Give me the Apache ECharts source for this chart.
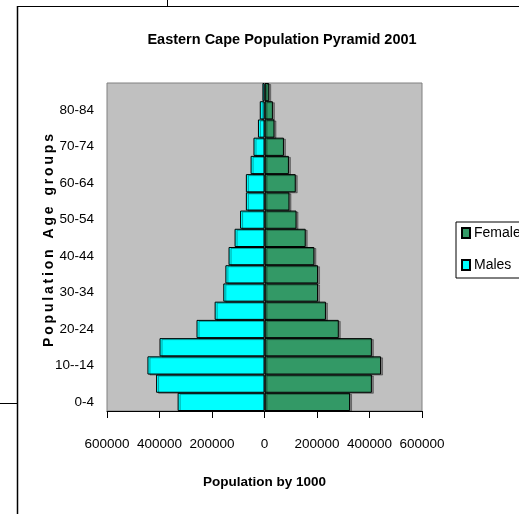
<!DOCTYPE html>
<html>
<head>
<meta charset="utf-8">
<title>Eastern Cape Population Pyramid 2001</title>
<script src="https://cdn.jsdelivr.net/npm/echarts@6/dist/echarts.min.js"></script>
<style>
  html, body { margin: 0; padding: 0; background: #ffffff; }
  #chart { width: 519px; height: 514px; }
</style>
</head>
<body>
<div id="chart"></div>
<script>
// Age groups, youngest at the bottom of the pyramid
const ageGroups = ['0-4', '5-9', '10--14', '15-19', '20-24', '25-29', '30-34', '35-39',
  '40-44', '45-49', '50-54', '55-59', '60-64', '65-69', '70-74', '75-79', '80-84', '85+'];

// Population counts per age group
const males = [331000, 413000, 446000, 400000, 259000, 190000, 157000, 149000,
  137000, 114000, 93000, 71000, 71000, 53000, 42000, 25000, 18000, 8000];
const females = [326000, 409000, 444000, 409000, 283000, 234000, 204000, 204000,
  190000, 157000, 122000, 95000, 119000, 93000, 74000, 38000, 32000, 18000];

// Axis ticks
const axisMin = -600000;
const axisMax = 600000;
const axisStep = 200000;

const sans = '"Liberation Sans", Arial, sans-serif';

const chart = echarts.init(document.getElementById('chart'), null, { renderer: 'canvas' });

const barStyle = (color) => ({
  color: color,
  borderColor: '#000000',
  borderWidth: 1,
  shadowColor: 'rgba(0,0,0,0.35)',
  shadowOffsetX: 2,
  shadowOffsetY: 1
});

chart.setOption({
  animation: false,
  backgroundColor: '#ffffff',
  title: {
    text: 'Eastern Cape Population Pyramid 2001',
    left: 277,
    textAlign: 'center',
    top: 27,
    textStyle: { fontFamily: sans, fontSize: 14.5, fontWeight: 'bold', color: '#000000' }
  },
  legend: {
    orient: 'vertical',
    left: 456,
    top: 222,
    padding: [3, 30, 5, 5],
    itemGap: 16,
    itemWidth: 8,
    itemHeight: 10,
    icon: 'rect',
    borderColor: '#000000',
    borderWidth: 1,
    borderRadius: 0,
    textStyle: { fontFamily: sans, fontSize: 14, lineHeight: 16, color: '#000000', padding: [0, 0, 0, -1] },
    data: ['Females', 'Males']
  },
  grid: {
    left: 107,
    top: 83,
    width: 315,
    height: 328,
    show: true,
    backgroundColor: '#c0c0c0',
    borderColor: '#808080',
    borderWidth: 1,
    containLabel: false
  },
  xAxis: {
    type: 'value',
    min: axisMin,
    max: axisMax,
    interval: axisStep,
    name: 'Population by 1000',
    nameLocation: 'middle',
    nameGap: 64,
    nameMoveOverlap: false,
    nameTextStyle: { fontFamily: sans, fontSize: 13.5, fontWeight: 'bold', color: '#000000', verticalAlign: 'top' },
    axisLine: { show: true, onZero: false, lineStyle: { color: '#000000', width: 1 } },
    axisTick: { show: true, inside: false, length: 7, lineStyle: { color: '#000000' } },
    splitLine: { show: false },
    axisLabel: {
      margin: 26,
      interval: 0,
      showMinLabel: true,
      showMaxLabel: true,
      hideOverlap: false,
      fontFamily: sans,
      fontSize: 13.5,
      color: '#000000',
      formatter: (v) => String(Math.abs(v))
    }
  },
  yAxis: {
    type: 'category',
    data: ageGroups,
    name: 'P\u2009o\u2009p\u2009u\u2009l\u2009a\u2009t\u2009i\u2009o\u2009n\u2002 A\u2009g\u2009e\u2002 g\u2009r\u2009o\u2009u\u2009p\u2009s',
    nameLocation: 'middle',
    nameGap: 51,
    nameMoveOverlap: false,
    nameRotate: 90,
    nameTextStyle: { fontFamily: sans, fontSize: 14, fontWeight: 'bold', color: '#000000', padding: [0, 0, 0, 13] },
    axisLine: { show: false },
    axisTick: { show: false },
    splitLine: { show: false },
    axisLabel: {
      interval: 1,
      margin: 13,
      fontFamily: sans,
      fontSize: 13.5,
      color: '#000000'
    }
  },
  series: [
    {
      name: 'Females',
      type: 'bar',
      stack: 'pyramid',
      barCategoryGap: 0,
      itemStyle: barStyle('#339966'),
      data: females
    },
    {
      name: 'Males',
      type: 'bar',
      stack: 'pyramid',
      barCategoryGap: 0,
      itemStyle: barStyle('#00ffff'),
      data: males.map((v) => -v)
    }
  ],
  graphic: [
    // surrounding page frame lines
    { type: 'line', shape: { x1: 17, y1: 6.5, x2: 519, y2: 6.5 }, style: { stroke: '#000000', lineWidth: 1 }, silent: true },
    { type: 'line', shape: { x1: 17.5, y1: 6, x2: 17.5, y2: 514 }, style: { stroke: '#000000', lineWidth: 1.5 }, silent: true },
    { type: 'line', shape: { x1: 167.5, y1: 0, x2: 167.5, y2: 6 }, style: { stroke: '#000000', lineWidth: 1 }, silent: true },
    { type: 'line', shape: { x1: 0, y1: 403.5, x2: 17, y2: 403.5 }, style: { stroke: '#000000', lineWidth: 1 }, silent: true }
  ]
});
</script>
</body>
</html>
